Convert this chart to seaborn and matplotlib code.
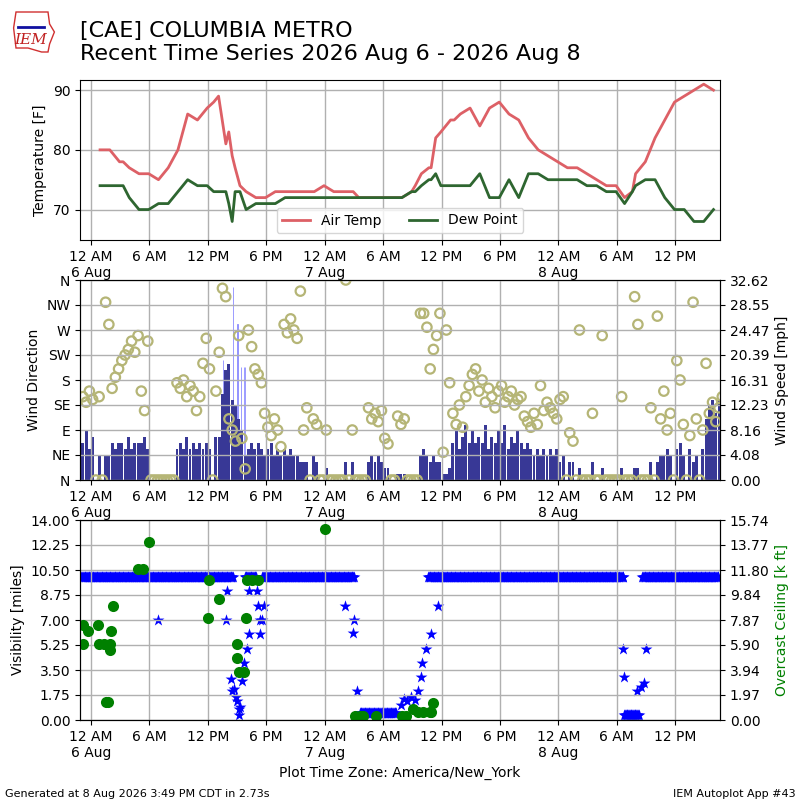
# CAE recent time series: temperature, wind, visibility / ceiling
import numpy as np
import pandas as pd
import matplotlib
matplotlib.use("Agg")
import matplotlib.pyplot as plt
from matplotlib.patches import Polygon
import seaborn as sns

base = pd.Timestamp("2026-08-06 00:00")

# hourly obs, hours after 6 Aug 00:00 local
obs_hours = [0.93, 1.93, 2.93, 3.3, 3.93, 4.93, 5.93, 6.93, 7.93, 8.93, 9.93, 10.93,
             11.93, 12.6, 13.1, 13.85, 14.15, 14.5, 14.8, 15.3, 15.93, 16.93, 17.93,
             18.93, 19.93, 20.93, 21.93, 22.93, 23.93, 24.93, 25.93, 26.93, 27.5, 28.93,
             29.93, 30.93, 31.93, 32.93, 33.3, 33.93, 34.7, 34.93, 35.4, 35.93, 36.93,
             37.3, 37.93, 38.93, 39.93, 40.93, 41.93, 42.93, 43.93, 44.93, 45.93, 46.93,
             47.93, 48.93, 49.93, 50.93, 51.93, 52.93, 53.93, 54.8, 55.6, 55.93, 56.93,
             57.93, 58.93, 59.93, 60.93, 61.93, 62.93, 63.93]
air_temp = [80, 80, 78, 78, 77, 76, 76, 75, 77, 80, 86, 85,
            87, 88, 89, 81, 83, 79, 77, 74, 73, 72, 72,
            73, 73, 73, 73, 73, 74, 73, 73, 73, 72, 72,
            72, 72, 72, 73, 74, 76, 77, 77, 82, 83, 85,
            85, 86, 87, 84, 87, 88, 86, 85, 82, 80, 79,
            78, 77, 77, 76, 75, 74, 74, 72, 73, 76, 78,
            82, 85, 88, 89, 90, 91, 90]
dew_point = [74, 74, 74, 74, 72, 70, 70, 71, 71, 73, 75, 74,
             74, 73, 73, 73, 71, 68, 73, 73, 70, 71, 71,
             71, 72, 72, 72, 72, 72, 72, 72, 72, 72, 72,
             72, 72, 72, 73, 73, 74, 75, 75, 76, 74, 74,
             74, 74, 74, 76, 72, 72, 75, 72, 76, 76, 75,
             75, 75, 75, 74, 74, 73, 73, 71, 73, 74, 75,
             75, 72, 70, 70, 68, 68, 70]

# wind, three readings per hour starting 5 Aug 23:00 (0 = calm)
wind_dir = [150, 140, 160,  145, 0, 150,  0, 320, 280,  165, 185, 200,
            215, 225, 235,  250, 230, 260,  160, 125, 250,  0, 0, 0,
            0, 0, 0,  0, 0, 175,  165, 180, 150,  170, 160, 125,
            150, 210, 255,  200, 0, 160,  230, 345, 330,  110, 90, 70,
            260, 75, 20,  270, 240, 200,  190, 175, 120,  95, 80, 110,
            90, 60, 280,  265, 290, 270,  255, 340, 90,  130, 0, 110,
            100, 0, 0,  90, 0, 0,  0, 0, 0,  360, 0, 90,
            0, 0, 0,  0, 130, 110,  120, 105, 125,  75, 65, 0,
            0, 115, 100,  110, 0, 0,  0, 0, 300,  300, 275, 200,
            235, 260, 300,  50, 270, 175,  120, 100, 135,  95, 150, 170,
            190, 200, 160,  180, 140, 165,  150, 130, 160,  170, 140, 150,
            160, 135, 145,  150, 115, 105,  95, 120, 100,  170, 125, 140,
            130, 120, 110,  145, 150, 0,  85, 70, 0,  270, 0, 0,
            0, 120, 0,  0, 260, 0,  0, 0, 0,  0, 150, 0,
            0, 0, 330,  280, 0, 0,  0, 130, 0,  295, 110, 160,
            90, 120, 0,  215, 180, 100,  0, 80, 320,  110, 0, 90,
            210, 120, 140,  105, 130, 150]
wind_mph = [6, 8, 5,  7, 0, 4,  0, 4, 4,  6, 5, 6,
            6, 5, 7,  5, 6, 6,  6, 7, 5,  0, 0, 0,
            0, 0, 0,  0, 0, 5,  6, 5, 7,  5, 6, 5,
            6, 5, 6,  5, 0, 7,  7, 14, 18,  19, 13, 12,
            10, 8, 4,  5, 6, 5,  6, 5, 4,  5, 6, 4,
            5, 4, 5,  4, 5, 4,  4, 3, 3,  3, 0, 4,
            3, 0, 0,  2, 0, 0,  0, 0, 0,  3, 0, 3,
            0, 0, 0,  0, 3, 4,  3, 4, 3,  2, 2, 0,
            0, 1, 1,  1, 0, 0,  0, 0, 4,  5, 4, 3,
            4, 3, 3,  1, 1, 2,  6, 8, 5,  7, 9, 6,
            8, 6, 7,  6, 9, 5,  7, 6, 8,  6, 9, 5,
            7, 6, 8,  6, 5, 6,  5, 4, 5,  4, 5, 4,
            5, 4, 5,  3, 4, 0,  3, 3, 0,  2, 0, 0,
            0, 3, 0,  0, 2, 0,  0, 0, 0,  0, 2, 0,
            0, 0, 2,  2, 0, 0,  0, 3, 0,  3, 4, 4,
            5, 4, 0,  5, 6, 4,  0, 5, 3,  4, 0, 5,
            10, 12, 13,  11, 13, 9]
gust_hours = [13.55, 14.55, 15.05, 15.4, 15.7, 15.85]
gust_mph = [19.5, 31.5, 25.5, 18.5, 18.5, 18.5]

# visibility: steady runs (start, end, miles) and single readings
vis_runs = [(-1.0, 14.6, 10), (15.8, 17.0, 10), (17.6, 27.1, 10), (27.6, 31.4, 0.5),
            (34.6, 54.7, 10), (54.75, 56.3, 0.35), (56.6, 64.5, 10)]
vis_hours = [6.9, 13.9, 14.0, 14.35, 14.5, 14.7, 14.85, 15.0, 15.2, 15.2, 15.35, 15.5,
             15.7, 16.0, 16.2, 16.2, 17.0, 17.2, 17.35, 17.4, 17.55, 17.75,
             26.1, 26.9, 27.0, 27.3, 31.8, 32.1, 32.5, 32.9, 33.3, 33.6, 33.9, 34.0,
             34.4, 34.95, 35.6, 54.6, 54.7, 56.1, 56.5, 56.8, 57.0]
vis_miles = [7.0, 7.0, 9.0, 2.9, 2.0, 2.2, 1.6, 1.3, 0.8, 0.35, 0.9, 2.7,
             4.0, 5.0, 6.0, 9.0, 9.0, 8.0, 7.0, 6.0, 7.0, 8.0,
             8.0, 6.1, 7.0, 2.05, 1.05, 1.5, 1.3, 1.6, 1.4, 2.05, 3.0, 4.0,
             5.0, 6.0, 8.0, 5.0, 3.0, 2.05, 2.3, 2.6, 5.0]

ceil_hours = [-0.85, -0.85, -0.35, 0.7, 0.85, 1.35, 1.5, 1.7, 1.9, 1.9, 2.05, 2.3,
              4.8, 5.3, 6.0, 12.0, 12.1, 13.1, 15.0, 15.0, 15.2, 15.7, 15.9, 16.0,
              16.55, 17.1, 24.0, 27.1, 27.6, 27.95, 29.3, 31.9, 32.4, 33.1, 33.6, 34.1,
              34.8, 34.95, 35.1]
ceil_kft = [7.5, 5.95, 7.0, 7.5, 5.95, 5.95, 1.44, 1.44, 5.95, 5.5, 7.0, 9.0,
            11.9, 11.9, 14.0, 8.0, 11.0, 9.5, 5.95, 4.85, 3.8, 3.8, 8.0, 11.0,
            11.0, 11.0, 15.0, 0.3, 0.3, 0.3, 0.3, 0.3, 0.3, 0.87, 0.65, 0.65,
            0.65, 0.65, 1.36]


def when(hours):
    return base + pd.to_timedelta(np.atleast_1d(np.asarray(hours, dtype=float)), unit="h")


wind_hours = -1 + (np.arange(len(wind_dir)) + 0.5) / 3.0
run_h, run_v = [], []
for start, end, val in vis_runs:
    hh = np.arange(start, end, 1 / 12.0)
    run_h.extend(hh)
    run_v.extend([val] * len(hh))

x_lo, x_hi = when([-1.13, 64.6])

fig = plt.figure(figsize=(8, 8), dpi=100)
ax1 = fig.add_axes([0.1, 0.7, 0.8, 0.2])
ax2 = fig.add_axes([0.1, 0.4, 0.8, 0.25])
ax3 = fig.add_axes([0.1, 0.1, 0.8, 0.25])

# temperature
sns.lineplot(x=when(obs_hours), y=air_temp, ax=ax1, color="#dd6066", lw=2, label="Air Temp")
sns.lineplot(x=when(obs_hours), y=dew_point, ax=ax1, color="#2e6630", lw=2, label="Dew Point")
ax1.set_ylim(64.9, 91.7)
ax1.set_yticks([70, 80, 90])
ax1.set_ylabel("Temperature [F]")
ax1.set_xlabel("")
ax1.legend(loc="lower center", ncol=2, fontsize=10)

# wind
ax2b = ax2.twinx()
ax2b.bar(when(wind_hours), wind_mph, width=18 / 1440.0, color="#383896", zorder=2)
ax2b.bar(when(gust_hours), gust_mph, width=2 / 1440.0, color="#8c8cff",
         edgecolor="#8c8cff", lw=0.6, zorder=1)
ax2b.set_ylim(0, 32.625)
spd_ticks = np.linspace(0, 32.625, 9)
ax2b.set_yticks(spd_ticks)
ax2b.set_yticklabels(["%.2f" % t for t in spd_ticks])
ax2b.set_ylabel("Wind Speed [mph]")
ax2.set_zorder(ax2b.get_zorder() + 1)
ax2.patch.set_visible(False)
sns.scatterplot(x=when(wind_hours), y=wind_dir, ax=ax2, marker="o", s=46,
                color="#b5b576", facecolor="none", edgecolor="#b5b576", linewidth=1.6)
ax2.set_ylim(0, 360)
ax2.set_yticks(range(0, 361, 45))
ax2.set_yticklabels(["N", "NE", "E", "SE", "S", "SW", "W", "NW", "N"])
ax2.set_ylabel("Wind Direction")
ax2.set_xlabel("")

# visibility and ceiling
sns.scatterplot(x=when(run_h), y=run_v, ax=ax3, marker="*", s=80,
                color="blue", edgecolor="blue", linewidth=0)
sns.scatterplot(x=when(vis_hours), y=vis_miles, ax=ax3, marker="*", s=80,
                color="blue", edgecolor="blue", linewidth=0)
ax3.set_ylim(0, 14)
vis_ticks = np.linspace(0, 14, 9)
ax3.set_yticks(vis_ticks)
ax3.set_yticklabels(["%.2f" % t for t in vis_ticks])
ax3.set_ylabel("Visibility [miles]")
ax3.set_xlabel("Plot Time Zone: America/New_York")
ax3b = ax3.twinx()
sns.scatterplot(x=when(ceil_hours), y=ceil_kft, ax=ax3b, marker="o", s=64,
                color="green", edgecolor="green", linewidth=0)
ax3b.set_ylim(0, 15.74)
ceil_ticks = np.linspace(0, 15.74, 9)
ax3b.set_yticks(ceil_ticks)
ax3b.set_yticklabels(["%.2f" % t for t in ceil_ticks])
ax3b.set_ylabel("Overcast Ceiling [k ft]", color="green")
ax3b.set_xlabel("")

tick_hours = np.arange(0, 61, 6)
tick_labels = []
for h in tick_hours:
    t = base + pd.Timedelta(hours=int(h))
    if t.hour == 0:
        tick_labels.append("12 AM\n%d Aug" % t.day)
    elif t.hour == 12:
        tick_labels.append("12 PM")
    elif t.hour < 12:
        tick_labels.append("%d AM" % t.hour)
    else:
        tick_labels.append("%d PM" % (t.hour - 12))
for ax in (ax1, ax2, ax3):
    ax.set_xlim(x_lo, x_hi)
    ax.set_xticks(when(tick_hours))
    ax.set_xticklabels(tick_labels)
    ax.grid(True, color="#b0b0b0", lw=1)
    ax.tick_params(labelsize=10)
for ax in (ax2b, ax3b):
    ax.set_xlim(x_lo, x_hi)

fig.text(0.1, 0.974, "[CAE] COLUMBIA METRO\nRecent Time Series 2026 Aug 6 - 2026 Aug 8",
         fontsize=16, va="top", ha="left")
fig.text(0.006, 0.004, "Generated at 8 Aug 2026 3:49 PM CDT in 2.73s", fontsize=8)
fig.text(0.994, 0.004, "IEM Autoplot App #43", fontsize=8, ha="right")

# little IEM logo
logo = Polygon([[0.02, 0.985], [0.06, 0.985], [0.062, 0.97], [0.068, 0.96],
                [0.062, 0.945], [0.06, 0.935], [0.052, 0.935], [0.035, 0.94],
                [0.02, 0.94], [0.017, 0.965]], closed=True, fill=False,
               edgecolor="#d03030", lw=1, transform=fig.transFigure)
fig.add_artist(logo)
fig.text(0.038, 0.945, "IEM", color="#c02020", fontsize=11, style="italic",
         family="DejaVu Serif", ha="center")
fig.add_artist(plt.Line2D([0.022, 0.055], [0.966, 0.966], color="#1010a0", lw=2,
                          transform=fig.transFigure))

fig.savefig("out.png", dpi=100)
